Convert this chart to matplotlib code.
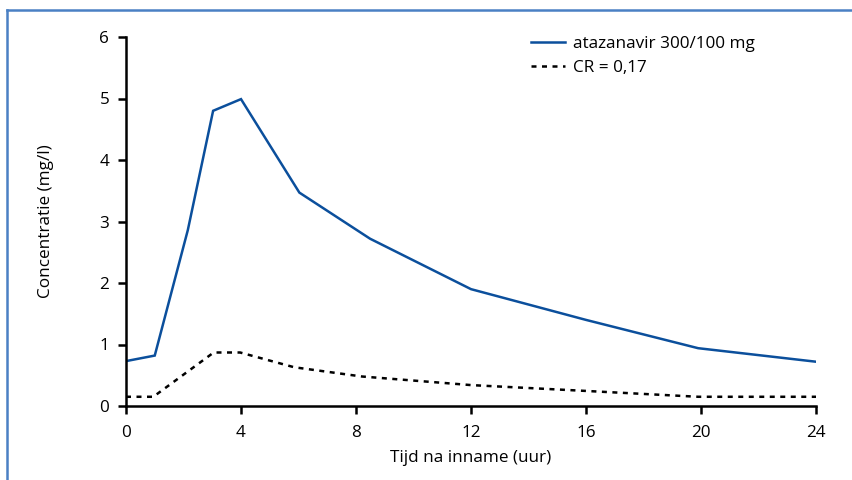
import matplotlib
matplotlib.use("Agg")
import matplotlib.pyplot as plt
from matplotlib.lines import Line2D

plt.rcParams['font.family'] = ['Open Sans', 'DejaVu Sans']

# Data
time_atv = [0, 1, 2.15, 3.03, 4, 6.03, 8.49, 12, 16, 19.9, 24]
conc_atv = [0.73, 0.82, 2.86, 4.80, 4.99, 3.47, 2.72, 1.90, 1.40, 0.94, 0.72]
time_cr = [0, 0.95, 3.05, 3.97, 5.85, 8.2, 12, 16, 19.9, 24]
conc_cr = [0.15, 0.15, 0.87, 0.87, 0.63, 0.48, 0.34, 0.245, 0.15, 0.15]
label_atv = "atazanavir 300/100 mg"
label_cr = "CR = 0,17"
x_ticks = [0, 4, 8, 12, 16, 20, 24]
y_ticks = [0, 1, 2, 3, 4, 5, 6]

fs = 12.3
fig = plt.figure(figsize=(8.52, 4.8), dpi=100)
ax = fig.add_axes([126/852, (480-406)/480, (816-126)/852, (406-37)/480])

ax.plot(time_atv, conc_atv, color='#0b4f9c', lw=1.8, label=label_atv, solid_joinstyle='miter')
ax.plot(time_cr, conc_cr, color='black', lw=1.8, ls=(0, (2, 2.2)), label=label_cr)

ax.set_xlim(0, 24)
ax.set_ylim(0, 6)
ax.set_xticks(x_ticks)
ax.set_yticks(y_ticks)
for s in ['top', 'right']:
    ax.spines[s].set_visible(False)
for s in ['left', 'bottom']:
    ax.spines[s].set_linewidth(1.8)
    ax.spines[s].set_color('black')
ax.tick_params(axis='both', direction='out', length=6, width=1.8, labelsize=fs, colors='black')
ax.tick_params(axis='x', pad=8)
ax.tick_params(axis='y', pad=6)
ax.set_xlabel("Tijd na inname (uur)", fontsize=fs, labelpad=6)
ax.set_ylabel("Concentratie (mg/l)", fontsize=fs, labelpad=33)
for sp in ax.spines.values():
    sp.set_clip_on(False)

leg = ax.legend(loc='upper left', bbox_to_anchor=(0.564, 1.045), frameon=False, fontsize=fs,
                handlelength=2.0, handletextpad=0.5, labelspacing=0.5)

# figure border (top and left visible)
fig.add_artist(Line2D([7/852, 1.0], [1 - 9.5/480, 1 - 9.5/480], color='#4a80c4', lw=1.8, transform=fig.transFigure))
fig.add_artist(Line2D([7/852, 7/852], [0, 1 - 9.5/480], color='#4a80c4', lw=1.8, transform=fig.transFigure))

fig.savefig("out.png", dpi=100, facecolor='white')
